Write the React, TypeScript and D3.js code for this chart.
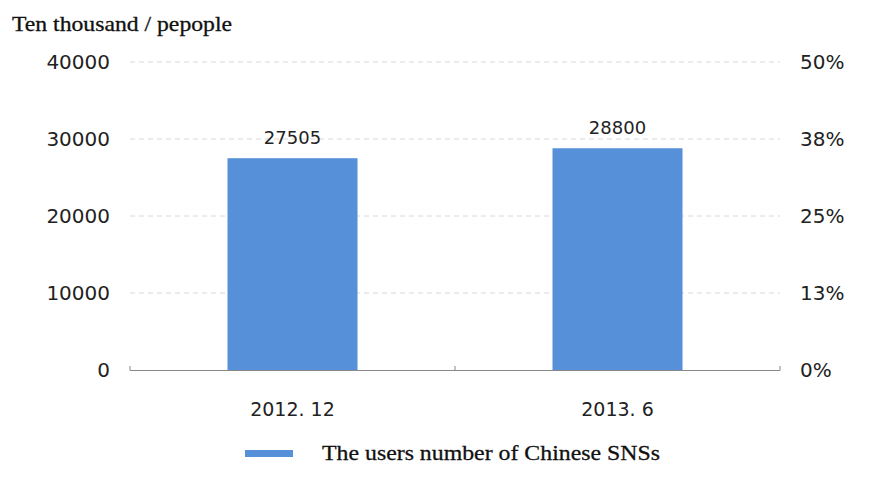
import React from "react";
import * as d3 from "d3";

const categories = ["2012. 12", "2013. 6"];
const values = [27505, 28800];
const leftTicks = [0, 10000, 20000, 30000, 40000];
const rightTickLabels = ["0%", "13%", "25%", "38%", "50%"];
const seriesName = "The users number of Chinese SNSs";
const unitLabel = "Ten thousand / pepople";

export default function App() {
  const W = 889, H = 487;
  const x0 = 130, x1 = 780, yTop = 62, yBot = 370;
  const x = d3.scaleBand().domain(categories).range([x0, x1]).paddingInner(0.6).paddingOuter(0.3);
  const y = d3.scaleLinear().domain([0, 40000]).range([yBot, yTop]);
  const sans = "Tahoma, 'DejaVu Sans', Verdana, sans-serif";
  const serif = "'Liberation Serif', 'Times New Roman', serif";
  const barColor = "#5590d8";
  return (
    <svg width={W} height={H} style={{ position: "absolute", left: 0, top: 0, background: "#fff" }}>
      <text x={12} y={31} fontFamily={serif} fontSize={21} fill="#111" stroke="#111" strokeWidth={0.3} textLength={220} lengthAdjust="spacingAndGlyphs">{unitLabel}</text>
      {leftTicks.map((t, i) => (
        <g key={t}>
          {t !== 0 && (
            <line x1={x0} x2={x1} y1={y(t)} y2={y(t)} stroke="#d8d8d8" strokeWidth={1} strokeDasharray="5,4" />
          )}
          <text x={110} y={y(t)} dy="0.35em" textAnchor="end" fontFamily={sans} fontSize={20} fill="#222">{t}</text>
          <text x={800} y={y(t)} dy="0.35em" textAnchor="start" fontFamily={sans} fontSize={20} fill="#222">{rightTickLabels[i]}</text>
        </g>
      ))}
      {categories.map((c, i) => (
        <g key={c}>
          <rect x={x(c)!} y={y(values[i])} width={x.bandwidth()} height={yBot - y(values[i])} fill={barColor} />
          <text x={x(c)! + x.bandwidth() / 2} y={y(values[i]) - 14} textAnchor="middle" fontFamily={sans} fontSize={18} fill="#222">{values[i]}</text>
          <text x={x(c)! + x.bandwidth() / 2} y={yBot + 46} textAnchor="middle" fontFamily={sans} fontSize={19} fill="#222">{c}</text>
        </g>
      ))}
      <line x1={x0} x2={x1} y1={yBot + 0.5} y2={yBot + 0.5} stroke="#888" strokeWidth={1.2} />
      {[x0, (x0 + x1) / 2, x1].map((tx, i) => (
        <line key={i} x1={tx} x2={tx} y1={yBot + 0.5} y2={yBot - 4} stroke="#888" strokeWidth={1} />
      ))}
      <rect x={245} y={450} width={48} height={7} fill={barColor} />
      <text x={322} y={460} fontFamily={serif} fontSize={22} fill="#111" stroke="#111" strokeWidth={0.3} textLength={338} lengthAdjust="spacingAndGlyphs">{seriesName}</text>
    </svg>
  );
}
